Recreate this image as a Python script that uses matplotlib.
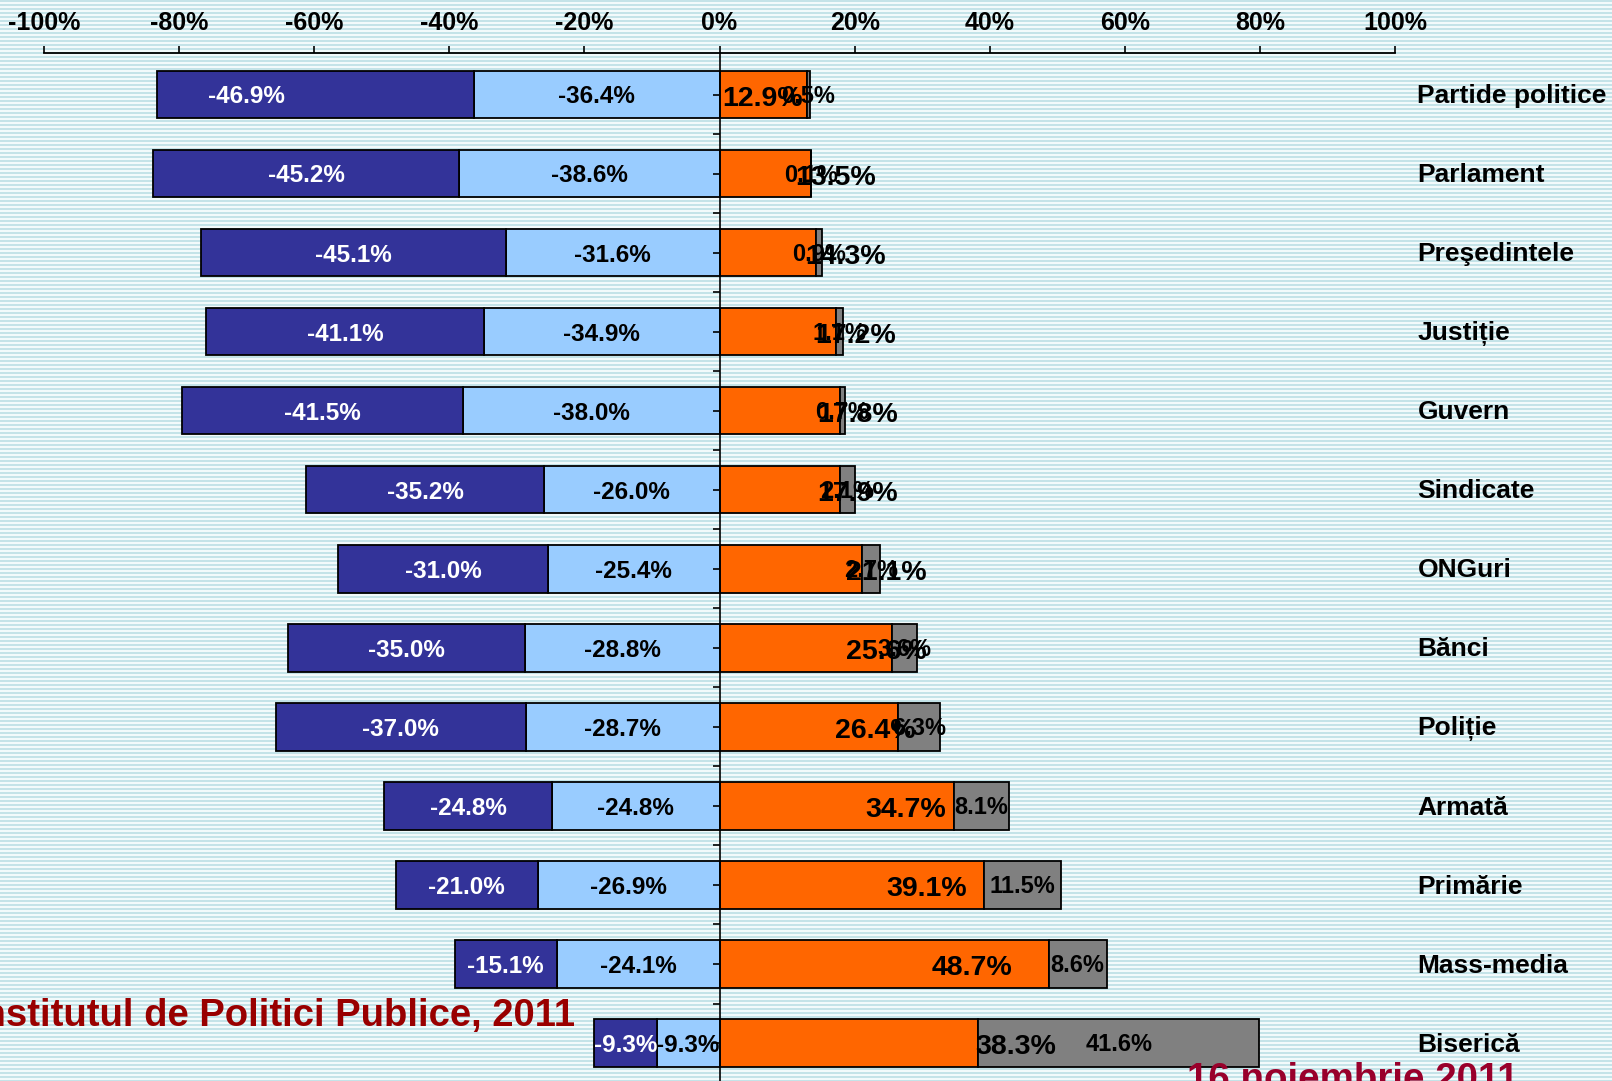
import matplotlib.pyplot as plt
import numpy as np

plt.rcParams['font.family'] = ['Liberation Sans', 'DejaVu Sans']
plt.rcParams['font.weight'] = 'bold'

cats = ['Partide politice', 'Parlament', 'Preşedintele', 'Justiție', 'Guvern',
        'Sindicate', 'ONGuri', 'Bănci', 'Poliție', 'Armată', 'Primărie',
        'Mass-media', 'Biserică']
dark = [-46.9, -45.2, -45.1, -41.1, -41.5, -35.2, -31.0, -35.0, -37.0, -24.8, -21.0, -15.1, -9.3]
light = [-36.4, -38.6, -31.6, -34.9, -38.0, -26.0, -25.4, -28.8, -28.7, -24.8, -26.9, -24.1, -9.3]
orange = [12.9, 13.5, 14.3, 17.2, 17.8, 17.9, 21.1, 25.6, 26.4, 34.7, 39.1, 48.7, 38.3]
gray = [0.5, 0.1, 0.9, 1.1, 0.7, 2.1, 2.7, 3.6, 6.3, 8.1, 11.5, 8.6, 41.6]
ticks = [-100, -80, -60, -40, -20, 0, 20, 40, 60, 80, 100]

# where the orange labels sit (they were moved by hand in the original)
orange_lab_x = [6.4, 17.2, 18.7, 20.1, 20.5, 20.5, 24.7, 24.7, 23.0, 27.5, 30.6, 37.4, 43.8]

c_dark = '#333399'
c_light = '#99ccff'
c_orange = '#ff6600'
c_gray = '#808080'

W, H = 1612, 1081
fig = plt.figure(figsize=(W / 100, H / 100), dpi=100)

# striped background
bg = fig.add_axes([0, 0, 1, 1])
rows = np.arange(H)
stripe = np.where(rows % 4 < 2, 0, 1)[:, None] * np.ones((1, 4))
cmap = plt.matplotlib.colors.ListedColormap(['#c4e3e8', '#f2fafb'])
bg.imshow(stripe, aspect='auto', cmap=cmap, interpolation='nearest', extent=[0, 1, 0, 1])
bg.set_axis_off()

ax = fig.add_axes([0, 0, 1, 1 - 53 / H])
ax.set_facecolor('none')
y = np.arange(len(cats))
h = 0.6
ek = dict(edgecolor='black', linewidth=1.3)

ax.barh(y, light, height=h, color=c_light, **ek)
ax.barh(y, dark, left=light, height=h, color=c_dark, **ek)
ax.barh(y, orange, height=h, color=c_orange, **ek)
ax.barh(y, gray, left=orange, height=h, color=c_gray, **ek)

for i in range(len(cats)):
    dx = light[i] + dark[i] / 2
    if i == 0:
        dx = -70.0
    ax.text(dx, y[i] + 0.03, f'{dark[i]:.1f}%', color='white', fontsize=17.5,
            ha='center', va='center', fontweight='bold')
    ax.text(light[i] / 2, y[i] + 0.03, f'{light[i]:.1f}%', color='black', fontsize=17.5,
            ha='center', va='center', fontweight='bold')
    ax.text(orange[i] + gray[i] / 2, y[i] + 0.02, f'{gray[i]:.1f}%', color='black', fontsize=17,
            ha='center', va='center', fontweight='bold')
    ax.text(orange_lab_x[i], y[i] + 0.05, f'{orange[i]:.1f}%', color='black', fontsize=20.5,
            ha='center', va='center', fontweight='bold')
    ax.text(103.3, y[i] + 0.02, cats[i], fontsize=19, ha='left', va='center',
            fontweight='bold', color='black')

ax.set_xlim(-106.5, 132.1)
ax.set_ylim(12.48, -0.526)

ax.xaxis.set_ticks_position('top')
ax.set_xticks(ticks)
ax.set_xticklabels([f'{t}%' for t in ticks], fontsize=18, fontweight='bold')
ax.tick_params(axis='x', direction='out', length=5, width=1.2, pad=8)

ax.spines['right'].set_visible(False)
ax.spines['bottom'].set_visible(False)
ax.spines['top'].set_bounds(-100, 100)
ax.spines['top'].set_linewidth(1.3)
ax.spines['left'].set_position(('data', 0))
ax.spines['left'].set_linewidth(1.2)
ax.spines['left'].set_zorder(5)
ax.set_yticks(np.arange(0, 12.5, 0.5))
ax.tick_params(axis='y', direction='out', length=5, width=1.2, labelleft=False)

fig.text(575 / W, 1 - 1016 / H, 'Institutul de Politici Publice, 2011', color='#990000',
         fontsize=27.5, fontweight='bold', ha='right', va='center')
fig.text(1187 / W, 1 - 1090 / H, '16 noiembrie 2011', color='#99002b',
         fontsize=27.7, fontweight='bold', ha='left', va='baseline')

fig.savefig('out.png', dpi=100)
